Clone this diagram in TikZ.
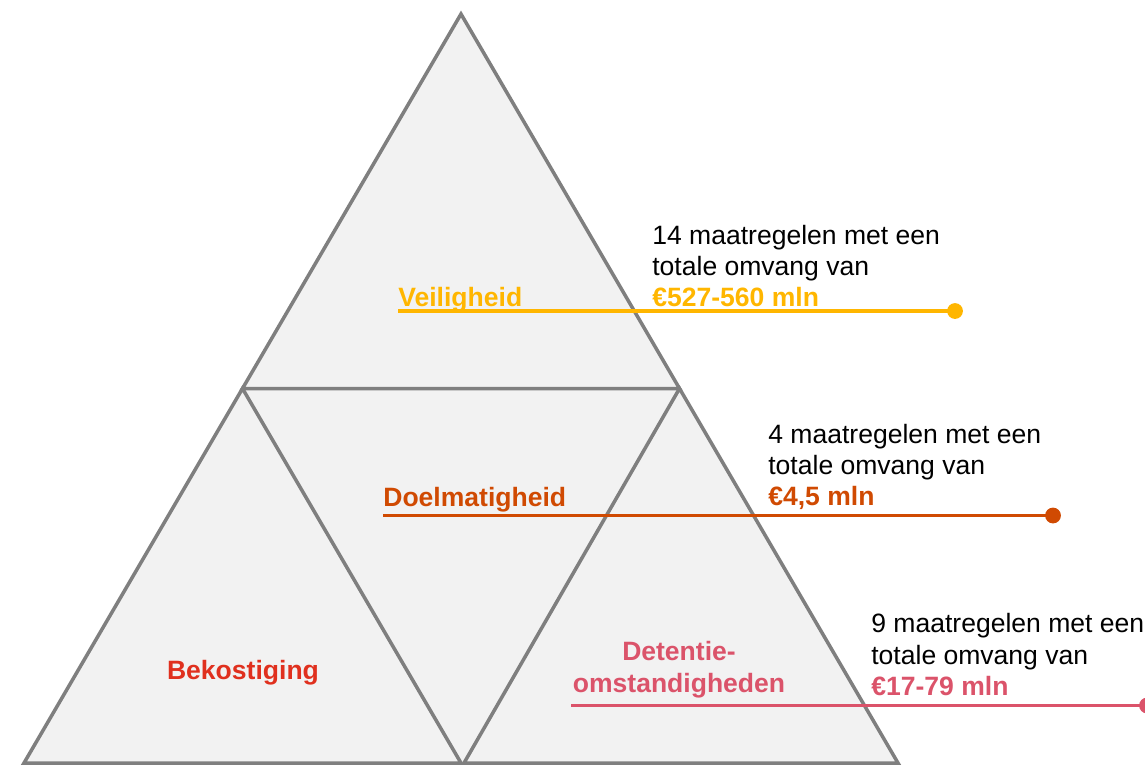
\documentclass[tikz,border=0pt]{standalone}
\usepackage{fontspec}
\setmainfont{Liberation Sans}
\definecolor{pwcyellow}{HTML}{FFB600}
\definecolor{pwcorange}{HTML}{D04A02}
\definecolor{pwcred}{HTML}{E0301E}
\definecolor{pwcrose}{HTML}{DB536A}
\definecolor{tribg}{HTML}{F2F2F2}
\definecolor{triedge}{HTML}{7F7F7F}
\tikzset{
  tri/.style={fill=tribg, draw=triedge, line width=2pt, line join=miter},
  txt/.style={inner sep=0pt, anchor=base west, font=\fontsize{15.1pt}{18pt}\selectfont},
  amount/.style={txt, font=\fontsize{15.1pt}{18pt}\selectfont\bfseries},
  label/.style={inner sep=0pt, font=\fontsize{15.1pt}{18pt}\selectfont\bfseries},
  leader/.style={line width=1.8pt},
  dot/.style={circle, inner sep=0pt, minimum size=9pt}
}
\begin{document}
\begin{tikzpicture}[x=0.02cm, y=-0.02cm]
\useasboundingbox (0,0) rectangle (1145,765);
\clip (0,0) rectangle (1145,765);
% coordinates
\coordinate (A) at (461,14);
\coordinate (L) at (242.5,388.5);
\coordinate (R) at (679.5,388.5);
\coordinate (BL) at (24,763);
\coordinate (BM1) at (461,763);
\coordinate (BM2) at (464,763);
\coordinate (BR) at (898,763);
% triangles
\fill[tribg] (L) -- (R) -- (BM2) -- (BM1) -- cycle;
\draw[tri] (A) -- (L) -- (R) -- cycle;
\draw[tri] (L) -- (BL) -- (BM1) -- cycle;
\draw[tri] (R) -- (BM2) -- (BR) -- cycle;
\draw[tri, fill=none] (L) -- (R);
% labels inside
\node[label, text=pwcyellow, anchor=base west] (veil) at (398,306.5) {Veiligheid};
\node[label, text=pwcorange, anchor=base west] (doel) at (383,506) {Doelmatigheid};
\node[label, text=pwcred, anchor=base] (bek) at (243,679.5) {Bekostiging};
\node[label, text=pwcrose, anchor=base] (det1) at (679,660) {Detentie-};
\node[label, text=pwcrose, anchor=base] (det2) at (679,692) {omstandigheden};
% text blocks
\node[txt] (t1a) at (652,244.3) {14 maatregelen met een};
\node[txt] (t1b) at (652,275) {totale omvang van};
\node[amount, text=pwcyellow] (t1c) at (652,306.7) {€527-560 mln};
\node[txt] (t2a) at (768,443.3) {4 maatregelen met een};
\node[txt] (t2b) at (768,474) {totale omvang van};
\node[amount, text=pwcorange] (t2c) at (768,505.7) {€4,5 mln};
\node[txt] (t3a) at (871,632.7) {9 maatregelen met een};
\node[txt] (t3b) at (871,664) {totale omvang van};
\node[amount, text=pwcrose] (t3c) at (871,695.7) {€17-79 mln};
% leader lines with dots
\coordinate (s1) at (398,311);
\node[dot, fill=pwcyellow] (d1) at (955,311) {};
\draw[leader, pwcyellow] (s1) -- (d1.center);
\coordinate (s2) at (383,515.5);
\node[dot, fill=pwcorange] (d2) at (1053,515.5) {};
\draw[leader, pwcorange] (s2) -- (d2.center);
\coordinate (s3) at (571,705.5);
\node[dot, fill=pwcrose] (d3) at (1147,705.5) {};
\draw[leader, pwcrose] (s3) -- (d3.center);
\end{tikzpicture}
\end{document}
